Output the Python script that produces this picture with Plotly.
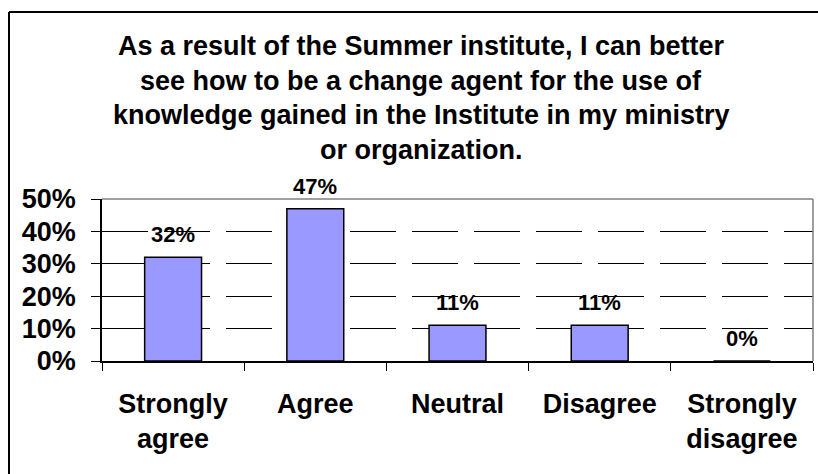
import plotly.graph_objects as go

categories = ["Strongly<br>agree", "Agree", "Neutral", "Disagree", "Strongly<br>disagree"]
values = [0.32, 0.47, 0.11, 0.11, 0.0]
y_ticks = [0, 0.1, 0.2, 0.3, 0.4, 0.5]
title_lines = [
    "As a result of the Summer institute, I can better",
    "see how to be a change agent for the use of",
    "knowledge gained in the Institute in my ministry",
    "or organization.",
]

W, H = 818, 474
ML, MR, MT, MB = 102, 5, 199, 113
PW, PH = W - ML - MR, H - MT - MB
FONT = "Liberation Sans, Arial, Helvetica, sans-serif"

def px_x(x):  # window pixel -> paper
    return (x - ML) / PW

def px_y(y):
    return (H - MB - y) / PH

fig = go.Figure()
fig.add_trace(go.Bar(
    x=categories, y=values,
    marker=dict(color="#9999FF", line=dict(color="black", width=1.5)),
    width=0.4,
    hoverinfo="skip",
))

annotations = []
for i, line in enumerate(title_lines):
    annotations.append(dict(
        text=line, xref="paper", yref="paper",
        x=px_x(421), y=px_y(46 + 34.5 * i),
        xanchor="center", yanchor="middle", showarrow=False,
        font=dict(family=FONT, size=27, color="black", weight="bold"),
    ))
for c, v in zip(categories, values):
    annotations.append(dict(
        text=f"{round(v * 100)}%", x=c, y=v, xref="x", yref="y",
        xanchor="center", yanchor="bottom", yshift=8, showarrow=False,
        font=dict(family=FONT, size=22, color="black", weight="bold"),
    ))

shapes = [
    # outer frame: only its left and top edges fall inside the view
    dict(type="line", xref="paper", yref="paper",
         x0=px_x(9), x1=px_x(818), y0=px_y(12), y1=px_y(12),
         line=dict(color="black", width=2), layer="below"),
    dict(type="line", xref="paper", yref="paper",
         x0=px_x(9), x1=px_x(9), y0=px_y(12), y1=px_y(474),
         line=dict(color="black", width=2), layer="below"),
    # grey top and right plot borders
    dict(type="line", xref="paper", yref="paper", x0=0, x1=1, y0=1, y1=1,
         line=dict(color="#808080", width=1.5)),
    dict(type="line", xref="paper", yref="paper", x0=1, x1=1, y0=0, y1=1,
         line=dict(color="#808080", width=1.5)),
]

fig.update_layout(
    width=W, height=H,
    margin=dict(l=ML, r=MR, t=MT, b=MB, pad=0),
    paper_bgcolor="white", plot_bgcolor="white",
    showlegend=False,
    bargap=0.6,
    annotations=annotations,
    shapes=shapes,
    font=dict(family=FONT, color="black"),
)
fig.update_xaxes(
    type="category", tickson="boundaries", ticks="outside", ticklen=8,
    tickcolor="black", tickwidth=1, showline=True, linecolor="black", linewidth=1.5,
    showgrid=False, ticklabelstandoff=18,
    tickfont=dict(family=FONT, size=27, color="black", weight="bold"),
)
fig.update_yaxes(
    range=[0, 0.5], tickvals=y_ticks, tickformat=".0%",
    ticks="outside", ticklen=9, tickcolor="black", tickwidth=1,
    showline=True, linecolor="black", linewidth=1.5,
    showgrid=True, gridcolor="black", gridwidth=1, griddash="46px,16px",
    zeroline=False, ticklabelstandoff=10,
    tickfont=dict(family=FONT, size=27, color="black", weight="bold"),
)

fig.write_html(
    "out.html",
    config={"displayModeBar": False},
    post_script="document.body.style.margin='0';document.body.style.overflow='hidden';",
)
